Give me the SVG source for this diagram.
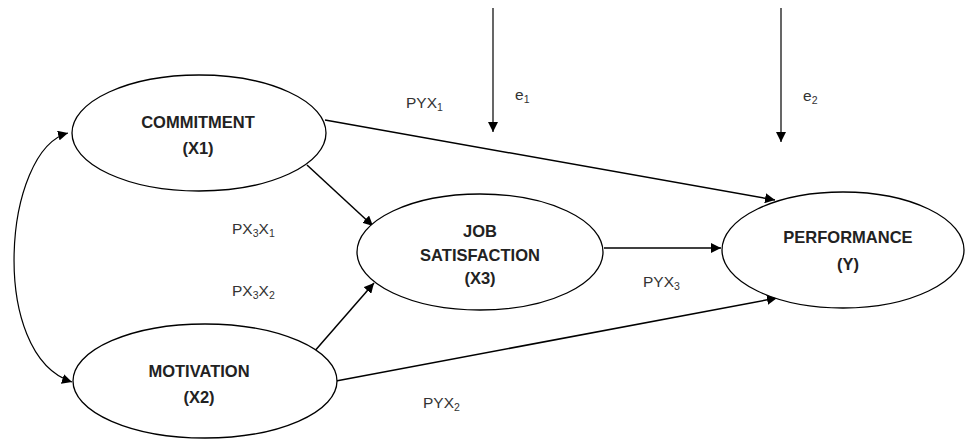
<svg xmlns="http://www.w3.org/2000/svg" width="967" height="441" viewBox="0 0 967 441">
<style>
.node{fill:#fff;stroke:#000;stroke-width:1.3}
.t{font-family:"Liberation Sans",Arial,sans-serif;font-weight:bold;font-size:16.5px;fill:#222;text-anchor:middle}
.l{font-family:"Liberation Sans",Arial,sans-serif;font-size:15.5px;fill:#333}
.s{font-size:10.5px}
.c{fill:none;stroke:#000;stroke-width:1.5}
</style>
<defs>
<marker id="ah" viewBox="0 0 10 10" refX="10" refY="5" markerWidth="10" markerHeight="10" markerUnits="userSpaceOnUse" orient="auto-start-reverse">
<path d="M0,0 L10,5 L0,10 z" fill="#000"/>
</marker>
</defs>
<rect width="967" height="441" fill="#fff"/>
<g id="connectors">
<path class="c" d="M68,133 C3,150 -12,355 72,382" marker-start="url(#ah)" marker-end="url(#ah)" style="stroke-width:1.2"/>
<line class="c" x1="493" y1="8" x2="493" y2="132" marker-end="url(#ah)" style="stroke-width:1.2"/>
<line class="c" x1="781" y1="8" x2="781" y2="142" marker-end="url(#ah)" style="stroke-width:1.2"/>
<line class="c" x1="325" y1="120" x2="775" y2="200" marker-end="url(#ah)"/>
<line class="c" x1="307" y1="165" x2="373" y2="226" marker-end="url(#ah)"/>
<line class="c" x1="313" y1="353" x2="374" y2="283" marker-end="url(#ah)"/>
<line class="c" x1="604" y1="248" x2="721" y2="248" marker-end="url(#ah)"/>
<line class="c" x1="336" y1="381" x2="777" y2="298" marker-end="url(#ah)"/>
</g>
<g id="commitment">
<ellipse class="node" cx="199" cy="133" rx="127" ry="58"/>
<text class="t" x="198" y="128">COMMITMENT</text>
<text class="t" x="198" y="154">(X1)</text>
</g>
<g id="motivation">
<ellipse class="node" cx="205" cy="381" rx="132" ry="57"/>
<text class="t" x="199" y="377">MOTIVATION</text>
<text class="t" x="199" y="403">(X2)</text>
</g>
<g id="jobsatisfaction">
<ellipse class="node" cx="480" cy="252" rx="123" ry="58"/>
<text class="t" x="480" y="237">JOB</text>
<text class="t" x="480" y="261">SATISFACTION</text>
<text class="t" x="480" y="284">(X3)</text>
</g>
<g id="performance">
<ellipse class="node" cx="843" cy="250" rx="121" ry="58"/>
<text class="t" x="848" y="243">PERFORMANCE</text>
<text class="t" x="848" y="270">(Y)</text>
</g>
<g id="labels">
<text class="l" x="406" y="108">PYX<tspan class="s" dy="3">1</tspan></text>
<text class="l" x="515" y="100">e<tspan class="s" dy="3">1</tspan></text>
<text class="l" x="803" y="101">e<tspan class="s" dy="3">2</tspan></text>
<text class="l" x="232" y="234">PX<tspan class="s" dy="3">3</tspan><tspan dy="-3">X</tspan><tspan class="s" dy="3">1</tspan></text>
<text class="l" x="232" y="296">PX<tspan class="s" dy="3">3</tspan><tspan dy="-3">X</tspan><tspan class="s" dy="3">2</tspan></text>
<text class="l" x="643" y="287">PYX<tspan class="s" dy="3">3</tspan></text>
<text class="l" x="423" y="408">PYX<tspan class="s" dy="3">2</tspan></text>
</g>
</svg>
